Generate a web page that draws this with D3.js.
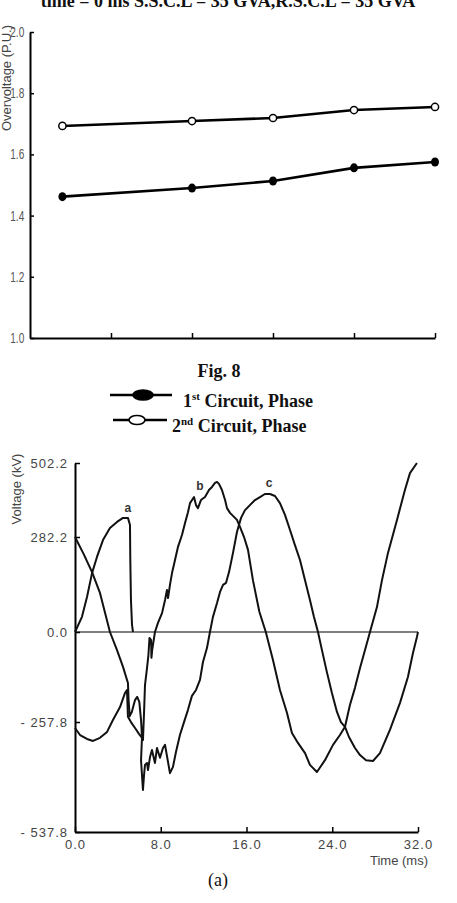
<!DOCTYPE html>
<html lang="en">
  <head>
    <meta charset="UTF-8" />
    <title>Fig. 8 overvoltage and phase voltages</title>
    <style>
      body {
        margin: 0;
        background: #fff;
      }
      svg {
        display: block;
      }
      .serif {
        font-family: "Liberation Serif", "Times New Roman", serif;
        font-weight: bold;
        fill: #111;
      }
      .axis path,
      .axis line {
        stroke: #000;
      }
      .axis path {
        stroke-width: 2;
      }
      .axis line {
        stroke-width: 1.5;
      }
      .top-axis text {
        font: 14px "Liberation Sans", Arial, sans-serif;
        fill: #555;
      }
      .bot-axis text {
        font: 13px "Liberation Sans", Arial, sans-serif;
        letter-spacing: 1px;
        fill: #444;
      }
      .lbl {
        font-family: "Liberation Sans", Arial, sans-serif;
        fill: #444;
      }
    </style>
  </head>
  <body>
    <svg width="457" height="903"></svg>
    <script src="https://d3js.org/d3.v7.min.js"></script>
    <script>
      // top chart: overvoltage (p.u.)
      const caseX = [0.4, 2, 3, 4, 5];
      const circuit1 = [1.462, 1.49, 1.513, 1.556, 1.575];
      const circuit2 = [1.693, 1.709, 1.719, 1.745, 1.755];
      const puTicks = [1.0, 1.2, 1.4, 1.6, 1.8, 2.0];
      const caseTicks = [1, 2, 3, 4, 5];

      // bottom chart: phase voltages [time ms, kV]
      const voltTicks = [-537.8, -257.8, 0.0, 282.2, 502.2];
      const timeTicks = [0, 8, 16, 24, 32];
      const phaseA = [
        [0, 0], [0.65, 45], [1.12, 104], [1.59, 175], [2.05, 223], [2.61, 273],
        [3.26, 309], [3.92, 327], [4.48, 339], [4.94, 339], [5.13, 318],
        [5.16, 214], [5.22, 95], [5.32, 21], [5.41, 0]
      ];
      const phaseB = [
        [0, 282.2], [0.8, 232], [1.59, 178], [2.33, 116], [3.26, 0], [3.92, -52],
        [4.48, -100], [4.94, -146], [5.0, -195], [5.1, -241], [5.3, -229],
        [5.6, -195], [5.8, -186], [6.0, -200], [6.16, -252], [6.25, -296],
        [6.34, -304], [6.44, -232], [6.53, -152], [6.72, -103], [6.85, -66],
        [6.95, -17], [7.1, -23], [7.13, -74], [7.2, -52], [7.46, 0], [7.74, 27],
        [8.12, 56], [8.4, 95], [8.58, 125], [8.68, 101], [8.86, 140], [9.05, 175],
        [9.33, 214], [9.6, 252], [9.98, 288], [10.26, 323], [10.54, 356],
        [10.73, 383], [11.1, 401], [11.29, 377], [11.47, 368], [11.75, 392],
        [12.13, 401], [12.5, 422], [12.78, 431], [13.06, 443], [13.25, 446],
        [13.43, 440], [13.71, 422], [14.0, 392], [14.18, 368], [14.46, 354],
        [14.74, 345], [15.11, 333], [15.39, 312], [15.77, 282], [16.14, 244],
        [16.6, 154], [17.2, 60], [17.8, 0], [18.47, -80], [19.12, -166],
        [19.78, -232], [20.24, -286], [20.8, -311], [21.46, -337], [21.92, -367],
        [22.57, -385], [23.32, -355], [24.07, -316], [24.72, -291], [25.19, -270],
        [25.65, -209], [26.12, -160], [26.59, -103], [27.05, -52], [27.52, 0],
        [28.17, 74], [28.64, 154], [29.2, 235], [30.04, 333], [30.78, 422],
        [31.25, 472], [31.9, 502.2]
      ];
      const phaseC = [
        [0, -273], [0.47, -291], [1.12, -301], [1.68, -306], [2.33, -298],
        [2.99, -283], [3.54, -252], [4.2, -215], [4.66, -175], [4.85, -166],
        [4.94, -243], [5.22, -258], [5.6, -273], [5.97, -288], [6.25, -298],
        [6.16, -355], [6.34, -431], [6.44, -393], [6.53, -367], [6.72, -362],
        [6.81, -380], [7.0, -347], [7.18, -329], [7.46, -362], [7.65, -324],
        [7.93, -349], [8.21, -324], [8.4, -316], [8.68, -360], [8.86, -388],
        [9.14, -372], [9.42, -334], [9.79, -291], [10.17, -258], [10.54, -223],
        [10.91, -183], [11.29, -166], [11.66, -137], [11.94, -86], [12.31, -46],
        [12.59, 0], [12.87, 45], [13.25, 86], [13.53, 119], [13.81, 140],
        [14.09, 146], [14.37, 178], [14.74, 235], [15.11, 297], [15.49, 339],
        [15.86, 362], [16.32, 377], [16.79, 392], [17.26, 401], [17.72, 410],
        [18.19, 410], [18.66, 404], [19.12, 383], [19.59, 348], [20.06, 303],
        [20.52, 258], [20.99, 214], [21.46, 154], [21.92, 95], [22.29, 45],
        [22.67, 0], [23.04, -52], [23.5, -115], [23.97, -175], [24.44, -229],
        [24.81, -258], [25.19, -270], [25.56, -296], [26.12, -324], [26.59, -342],
        [27.15, -355], [27.8, -357], [28.45, -337], [29.38, -278], [30.32, -203],
        [31.06, -129], [31.53, -60], [31.9, -14], [32, 0]
      ];
      // curve labels near their peaks
      const peakLabels = [
        { name: "a", t: 4.94, v: 356 },
        { name: "b", t: 11.66, v: 421 },
        { name: "c", t: 18.1, v: 431 }
      ];

      const svg = d3.select("svg");

      // ---- header (cut off at the top edge, as in the scan)
      svg.append("text")
        .attr("class", "serif")
        .attr("x", 228)
        .attr("y", 7)
        .attr("text-anchor", "middle")
        .style("font-size", "18px")
        .text("time = 0 ms S.S.C.L = 35 GVA,R.S.C.L = 35 GVA");

      // ---- top chart
      let x1 = d3.scaleLinear().domain([0, 5]).range([30, 435]),
        y1 = d3.scaleLinear().domain([1, 2]).range([338, 32]);

      let yAx1 = svg.append("g")
        .attr("class", "axis top-axis")
        .attr("transform", "translate(30,0)")
        .call(d3.axisLeft(y1).tickValues(puTicks).tickSize(-4).tickSizeOuter(0)
          .tickPadding(8).tickFormat(d3.format(".1f")));
      // narrow tick font like the scan
      yAx1.selectAll("text").attr("transform", "scale(0.72,1)");

      svg.append("g")
        .attr("class", "axis top-axis")
        .attr("transform", "translate(0,338)")
        .call(d3.axisBottom(x1).tickValues(caseTicks).tickSize(-5).tickSizeOuter(0)
          .tickFormat(""));

      svg.append("text")
        .attr("class", "lbl")
        .attr("transform", "translate(11,131) rotate(-90)")
        .style("font-size", "13px")
        .text("Overvoltage (P.U.)");

      let line1 = d3.line()
        .x((d, i) => x1(caseX[i]))
        .y((d) => y1(d));

      [circuit1, circuit2].forEach((s) => {
        svg.append("path")
          .datum(s)
          .attr("d", line1)
          .attr("fill", "none")
          .attr("stroke", "#000")
          .attr("stroke-width", 2.6);
      });

      svg.selectAll(".m1")
        .data(circuit1)
        .enter()
        .append("ellipse")
        .attr("cx", (d, i) => x1(caseX[i]))
        .attr("cy", (d) => y1(d))
        .attr("rx", 4)
        .attr("ry", 4.5)
        .attr("fill", "#000");

      svg.selectAll(".m2")
        .data(circuit2)
        .enter()
        .append("circle")
        .attr("cx", (d, i) => x1(caseX[i]))
        .attr("cy", (d) => y1(d))
        .attr("r", 3.6)
        .attr("fill", "#fff")
        .attr("stroke", "#000")
        .attr("stroke-width", 1.5);

      // ---- caption + legend
      svg.append("text")
        .attr("class", "serif")
        .attr("x", 219)
        .attr("y", 377)
        .attr("text-anchor", "middle")
        .style("font-size", "18px")
        .text("Fig. 8");

      let leg = [
        { y: 395, x0: 110, x1: 172, mx: 143, filled: true, num: "1", sup: "st", tx: 183 },
        { y: 420, x0: 113, x1: 167, mx: 137, filled: false, num: "2", sup: "nd", tx: 172 }
      ];
      leg.forEach((l) => {
        svg.append("line")
          .attr("x1", l.x0).attr("x2", l.x1)
          .attr("y1", l.y).attr("y2", l.y)
          .attr("stroke", "#000").attr("stroke-width", 2.6);
        svg.append("ellipse")
          .attr("cx", l.mx).attr("cy", l.y)
          .attr("rx", l.filled ? 10 : 8).attr("ry", l.filled ? 5 : 4.5)
          .attr("fill", l.filled ? "#000" : "#fff")
          .attr("stroke", "#000").attr("stroke-width", 1.6);
        let t = svg.append("text")
          .attr("class", "serif")
          .attr("x", l.tx)
          .attr("y", l.y + 12)
          .style("font-size", "18px");
        t.append("tspan").text(l.num);
        t.append("tspan").attr("dy", -7).style("font-size", "11px").text(l.sup);
        t.append("tspan").attr("dy", 7).text(" Circuit, Phase");
      });

      // ---- bottom chart
      let x2 = d3.scaleLinear().domain([0, 32]).range([75, 418]),
        y2 = d3.scaleLinear().domain(voltTicks).range([832, 722, 632, 537, 463]);

      svg.append("g")
        .attr("class", "axis bot-axis")
        .attr("transform", "translate(75,0)")
        .call(d3.axisLeft(y2).tickValues(voltTicks).tickSize(-5).tickSizeOuter(0)
          .tickPadding(7).tickFormat((d) => (d < 0 ? "- " + (-d).toFixed(1) : d.toFixed(1))));

      svg.append("g")
        .attr("class", "axis bot-axis")
        .attr("transform", "translate(0,832)")
        .call(d3.axisBottom(x2).tickValues(timeTicks).tickSize(-5).tickSizeOuter(0)
          .tickPadding(8).tickFormat(d3.format(".1f")));

      svg.append("line")
        .attr("x1", x2(0)).attr("x2", x2(32))
        .attr("y1", y2(0)).attr("y2", y2(0))
        .attr("stroke", "#000").attr("stroke-width", 1.1);

      svg.append("text")
        .attr("class", "lbl")
        .attr("transform", "translate(21,489) rotate(-90)")
        .attr("text-anchor", "middle")
        .style("font-size", "13px")
        .text("Voltage (kV)");

      svg.append("text")
        .attr("class", "lbl")
        .attr("x", 428)
        .attr("y", 865)
        .attr("text-anchor", "end")
        .style("font-size", "13px")
        .text("Time (ms)");

      let line2 = d3.line()
        .x((d) => x2(d[0]))
        .y((d) => y2(d[1]));

      [phaseA, phaseB, phaseC].forEach((s) => {
        svg.append("path")
          .datum(s)
          .attr("d", line2)
          .attr("fill", "none")
          .attr("stroke", "#111")
          .attr("stroke-width", 2)
          .attr("stroke-linejoin", "round");
      });

      svg.selectAll(".peak")
        .data(peakLabels)
        .enter()
        .append("text")
        .attr("class", "lbl")
        .attr("x", (d) => x2(d.t))
        .attr("y", (d) => y2(d.v))
        .attr("text-anchor", "middle")
        .style("font-size", "12px")
        .style("font-weight", "bold")
        .style("fill", "#333")
        .text((d) => d.name);

      svg.append("text")
        .attr("class", "serif")
        .attr("x", 218)
        .attr("y", 886)
        .attr("text-anchor", "middle")
        .style("font-size", "18px")
        .style("font-weight", "normal")
        .text("(a)");
    </script>
  </body>
</html>
